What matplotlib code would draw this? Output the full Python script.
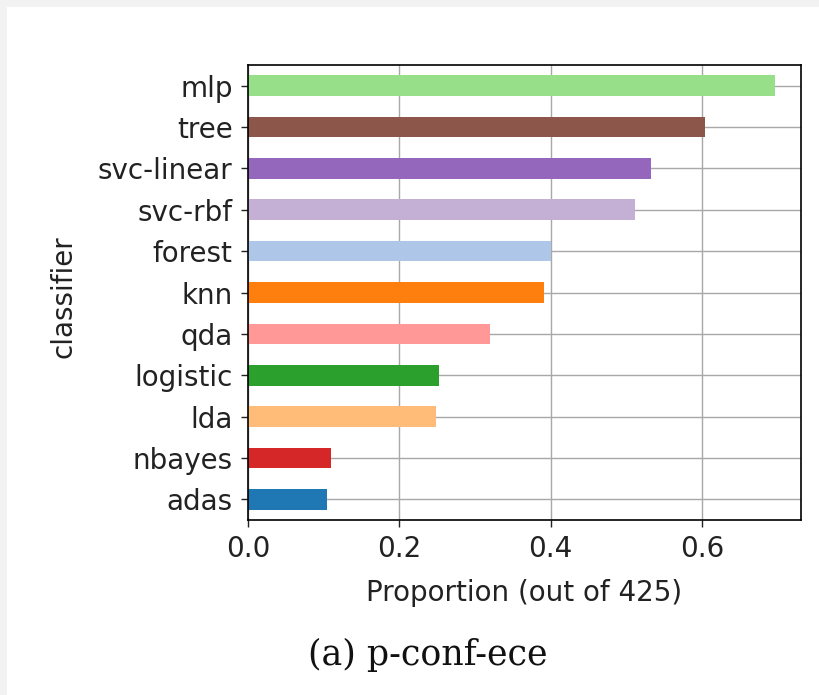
import numpy as np
import matplotlib
matplotlib.use('Agg')
from matplotlib import pyplot as plt
from matplotlib.patches import Rectangle

# classifiers, bottom to top as drawn
classifiers = ['adas', 'nbayes', 'lda', 'logistic', 'qda', 'knn',
               'forest', 'svc-rbf', 'svc-linear', 'tree', 'mlp']
proportions = [0.105, 0.110, 0.249, 0.252, 0.320, 0.391,
               0.400, 0.512, 0.533, 0.604, 0.696]
bar_colors = ['#1f77b4', '#d62728', '#ffbb78', '#2ca02c', '#ff9896', '#ff7f0e',
              '#aec7e8', '#c5b0d5', '#9467bd', '#8c564b', '#98df8a']

xlabel = 'Proportion (out of 425)'
ylabel = 'classifier'
caption = '(a) p-conf-ece'

def make_plot():
    fig = plt.figure(figsize=(8.19, 6.95), dpi=100)
    fig.patch.set_facecolor('white')
    # light gray strips along the top and left edge of the screenshot
    fig.patches.append(Rectangle((0, 0), 7 / 819, 1, transform=fig.transFigure,
                                 facecolor='#f2f2f2', edgecolor='none'))
    fig.patches.append(Rectangle((0, 1 - 7 / 695), 1, 7 / 695, transform=fig.transFigure,
                                 facecolor='#f2f2f2', edgecolor='none'))

    ax = fig.add_axes([248 / 819, 175 / 695, 553 / 819, 455 / 695])
    y = np.arange(len(classifiers))
    ax.barh(y, proportions, height=0.5, color=bar_colors, zorder=2)
    ax.set_yticks(y)
    ax.set_yticklabels(classifiers)
    ax.set_ylim(-0.5, len(classifiers) - 0.5)
    ax.set_xlim(0, max(proportions) * 1.05)
    ax.set_xticks([0.0, 0.2, 0.4, 0.6])
    ax.grid(True, color='#a8a8a8', linewidth=1.0, zorder=0)
    ax.set_axisbelow(True)
    for s in ax.spines.values():
        s.set_linewidth(1.2)
    ax.tick_params(labelsize=20, length=5, width=1.0, color='#222222')
    ax.tick_params(axis='y', pad=6)
    ax.tick_params(axis='x', pad=6)
    ax.set_xlabel(xlabel, fontsize=20, labelpad=11, color='#222222')
    ax.set_ylabel(ylabel, fontsize=20, color='#222222')
    ax.yaxis.set_label_coords(-0.309, 0.49)
    for lab in ax.get_xticklabels() + ax.get_yticklabels():
        lab.set_color('#222222')

    fig.text(0.522, 40 / 695, caption, ha='center', va='center',
             fontsize=25, family='DejaVu Serif', color='#111111')
    fig.savefig('out.png', dpi=100)
    return fig

if __name__ == '__main__':
    make_plot()
